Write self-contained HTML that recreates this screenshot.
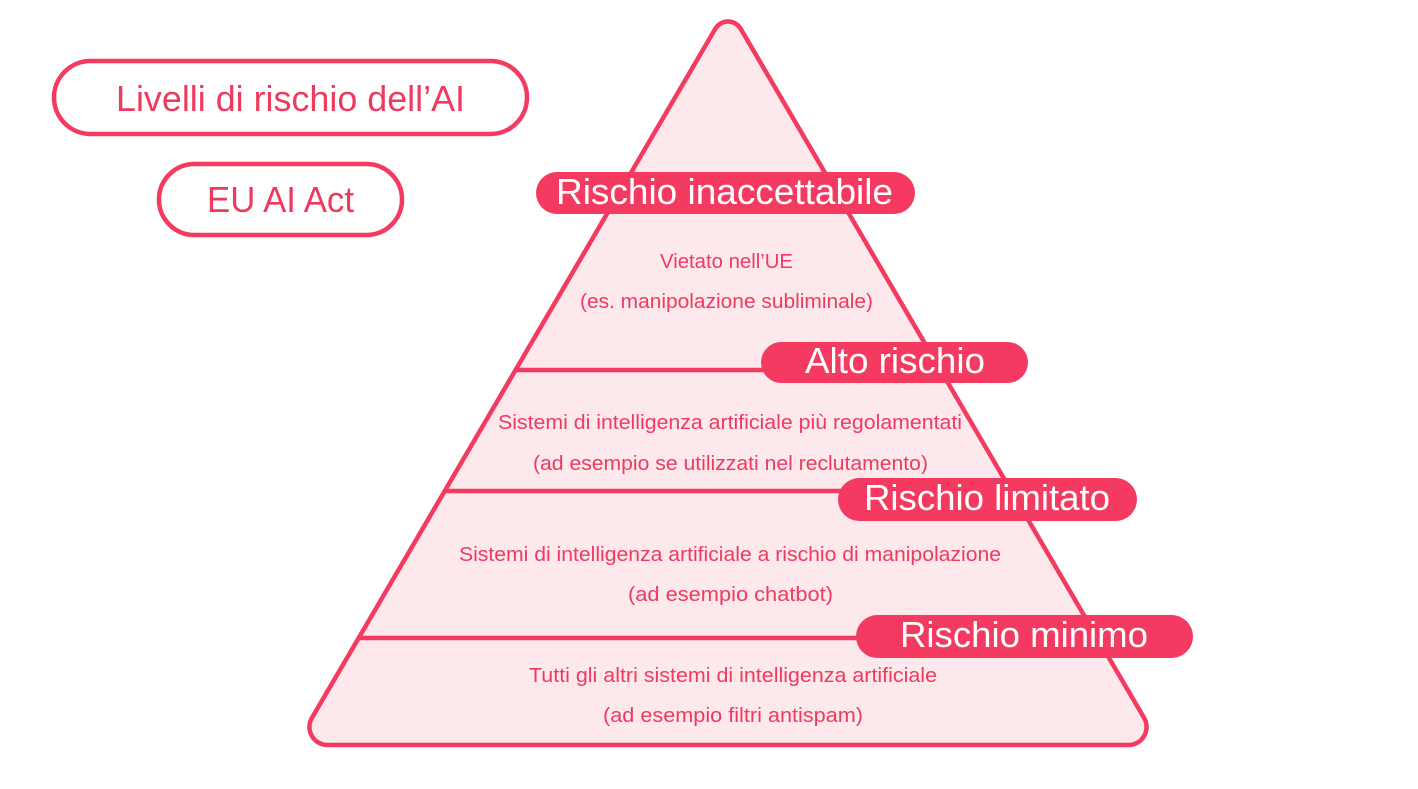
<!DOCTYPE html>
<html>
<head>
<meta charset="utf-8">
<style>
  html,body{margin:0;padding:0;background:#ffffff;}
  body{width:1418px;height:789px;overflow:hidden;}
  svg{display:block;}
  text{font-family:"Liberation Sans", "DejaVu Sans", sans-serif;}
</style>
</head>
<body>
<svg width="1418" height="789" viewBox="0 0 1418 789" xmlns="http://www.w3.org/2000/svg">
  <!-- Pyramid -->
  <path d="M715.4,28.6 A14.7,14.7 0 0 1 740.6,28.6 L1144.1,717.9 A18,18 0 0 1 1128.6,745 L327.4,745 A18,18 0 0 1 311.9,717.9 Z"
        fill="#fde8ec" stroke="#f43a60" stroke-width="4.5" stroke-linejoin="round"/>

  <!-- divider lines -->
  <line x1="515" y1="370" x2="790" y2="370" stroke="#f43a60" stroke-width="4.5"/>
  <line x1="444" y1="491" x2="860" y2="491" stroke="#f43a60" stroke-width="4.5"/>
  <line x1="357" y1="638" x2="880" y2="638" stroke="#f43a60" stroke-width="4.5"/>

  <!-- Title pills -->
  <rect x="54" y="61" width="473" height="73" rx="36.5" ry="36.5" fill="#ffffff" stroke="#f43a60" stroke-width="4.5"/>
  <text x="116" y="111" font-size="36" fill="#ef3a60" textLength="349" lengthAdjust="spacingAndGlyphs">Livelli di rischio dell’AI</text>

  <rect x="159" y="164" width="243" height="71" rx="35.5" ry="35.5" fill="#ffffff" stroke="#f43a60" stroke-width="4.5"/>
  <text x="207" y="212" font-size="36" fill="#ef3a60" textLength="147" lengthAdjust="spacingAndGlyphs">EU AI Act</text>

  <!-- Level pills -->
  <rect x="536" y="172" width="379" height="42" rx="21" ry="21" fill="#f43a60"/>
  <text x="556" y="204" font-size="36" fill="#ffffff" textLength="337" lengthAdjust="spacingAndGlyphs">Rischio inaccettabile</text>

  <rect x="761" y="342" width="267" height="41" rx="20.5" ry="20.5" fill="#f43a60"/>
  <text x="805" y="373" font-size="36" fill="#ffffff" textLength="180" lengthAdjust="spacingAndGlyphs">Alto rischio</text>

  <rect x="838" y="478" width="299" height="43" rx="21.5" ry="21.5" fill="#f43a60"/>
  <text x="864" y="510" font-size="36" fill="#ffffff" textLength="246" lengthAdjust="spacingAndGlyphs">Rischio limitato</text>

  <rect x="856" y="615" width="337" height="43" rx="21.5" ry="21.5" fill="#f43a60"/>
  <text x="900" y="647" font-size="36" fill="#ffffff" textLength="248" lengthAdjust="spacingAndGlyphs">Rischio minimo</text>

  <!-- Descriptions -->
  <g font-size="20" fill="#ef3a60">
    <text x="660" y="268" textLength="133" lengthAdjust="spacingAndGlyphs">Vietato nell’UE</text>
    <text x="580" y="308" textLength="293" lengthAdjust="spacingAndGlyphs">(es. manipolazione subliminale)</text>

    <text x="498" y="429" textLength="464" lengthAdjust="spacingAndGlyphs">Sistemi di intelligenza artificiale più regolamentati</text>
    <text x="533" y="470" textLength="395" lengthAdjust="spacingAndGlyphs">(ad esempio se utilizzati nel reclutamento)</text>

    <text x="459" y="561" textLength="542" lengthAdjust="spacingAndGlyphs">Sistemi di intelligenza artificiale a rischio di manipolazione</text>
    <text x="628" y="601" textLength="205" lengthAdjust="spacingAndGlyphs">(ad esempio chatbot)</text>

    <text x="529" y="682" textLength="408" lengthAdjust="spacingAndGlyphs">Tutti gli altri sistemi di intelligenza artificiale</text>
    <text x="603" y="722" textLength="260" lengthAdjust="spacingAndGlyphs">(ad esempio filtri antispam)</text>
  </g>
</svg>
</body>
</html>
